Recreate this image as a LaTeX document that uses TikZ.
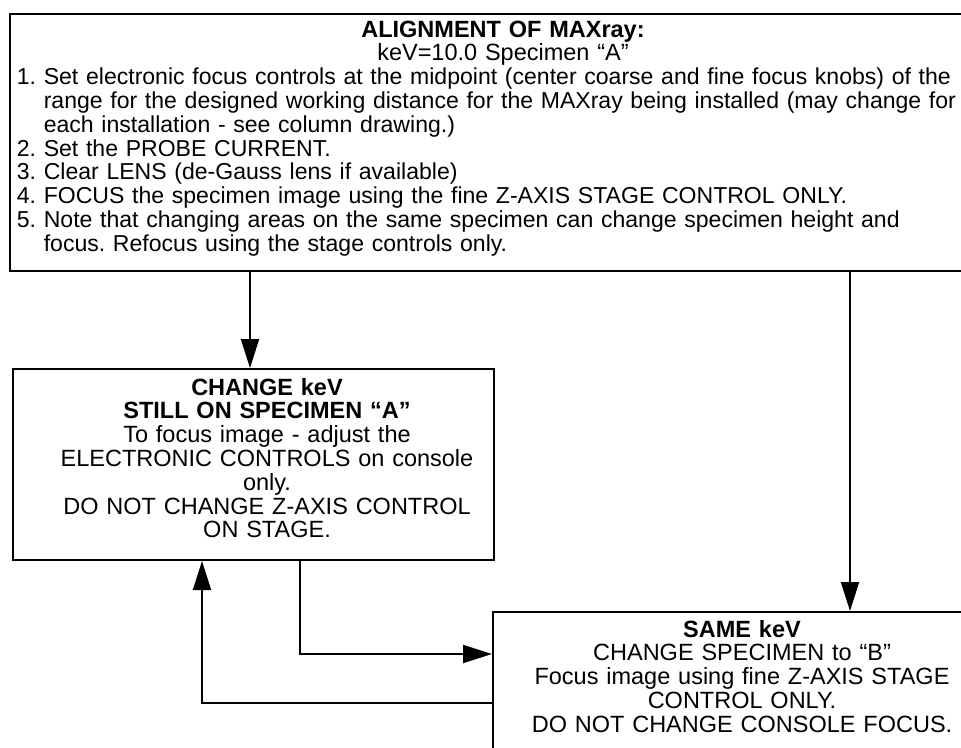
\documentclass[tikz,border=0pt]{standalone}
\usepackage{fontspec}
\setmainfont{Liberation Sans}
\usetikzlibrary{arrows.meta}
\frenchspacing
\tikzset{
  boxnode/.style={draw=black, line width=2pt, rectangle, inner sep=0pt, anchor=north west, fill=none},
  txt/.style={inner sep=0pt, font=\fontsize{23.5pt}{23.8pt}\selectfont},
  arr/.style={draw=black, line width=2pt, -{Triangle[length=29pt,width=18pt]}},
}
\begin{document}
\begin{tikzpicture}[x=1pt,y=-1pt]
\useasboundingbox (0,0) rectangle (961,747);
% boxes
\node[boxnode, minimum width=990pt, minimum height=257.5pt] (top) at (9,12.5) {};
\node[boxnode, minimum width=481pt, minimum height=191pt] (chg) at (12,368) {};
\node[boxnode, minimum width=500pt, minimum height=200pt] (same) at (492,611) {};
% texts
\node[txt, text width=900pt, align=center, anchor=base] (toptitle) at (503,37)
  {\textbf{ALIGNMENT OF MAXray:}\\keV=10.0 Specimen “A”};
\node[txt, text width=960pt, align=left, anchor=base west, font=\fontsize{23.05pt}{23.8pt}\selectfont] (toplist) at (16.7,84.6)
  {1. Set electronic focus controls at the midpoint (center coarse and fine focus knobs) of the\\
   \hphantom{1.\ }range for the designed working distance for the MAXray being installed (may change for\\
   \hphantom{1.\ }each installation - see column drawing.)\\
   2. Set the PROBE CURRENT.\\
   3. Clear LENS (de-Gauss lens if available)\\
   4. FOCUS the specimen image using the fine Z-AXIS STAGE CONTROL ONLY.\\
   5. Note that changing areas on the same specimen can change specimen height and\\
   \hphantom{5.\ }focus. Refocus using the stage controls only.};
\node[txt, text width=470pt, align=center, anchor=base] (chgtext) at (267,395)
  {\textbf{CHANGE keV}\\\textbf{STILL ON SPECIMEN “A”}\\To focus image - adjust the\\ELECTRONIC CONTROLS on console\\only.\\DO NOT CHANGE Z-AXIS CONTROL\\ON STAGE.};
\node[txt, text width=470pt, align=center, anchor=base] (sametext) at (742,637)
  {\textbf{SAME keV}\\CHANGE SPECIMEN to “B”\\Focus image using fine Z-AXIS STAGE\\CONTROL ONLY.\\DO NOT CHANGE CONSOLE FOCUS.};
% connector guide coordinates
\coordinate (xa) at (250,0);
\coordinate (xb) at (850,0);
\coordinate (xc) at (300,0);
\coordinate (yc) at (0,654);
\coordinate (xd) at (202,0);
\coordinate (yd) at (0,703);
% connectors
\draw[arr] (top.south -| xa) -- (chg.north -| xa);
\draw[arr] (top.south -| xb) -- (same.north -| xb);
\draw[arr] (chg.south -| xc) |- (same.west |- yc);
\draw[arr] (same.west |- yd) -| (chg.south -| xd);
\end{tikzpicture}
\end{document}
